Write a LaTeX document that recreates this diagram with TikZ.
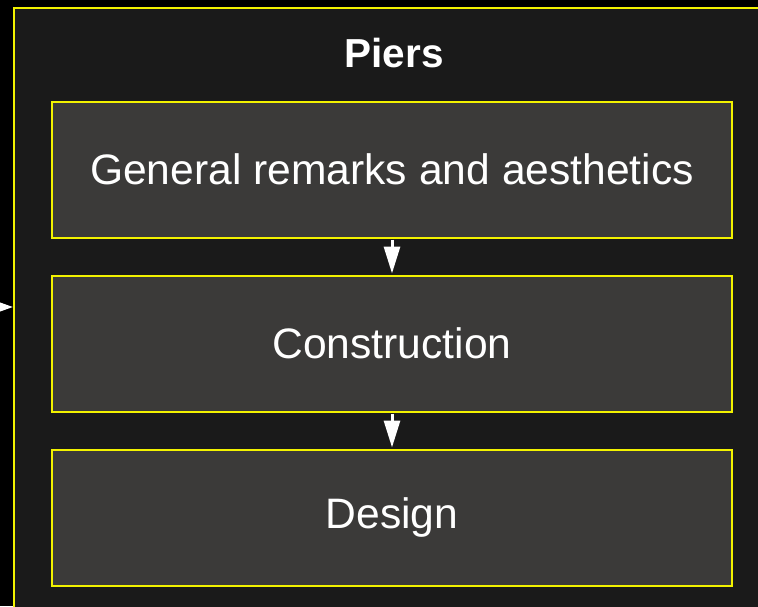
\documentclass[tikz,border=0pt]{standalone}
\usepackage{fontspec}
\setmainfont{Liberation Sans}
\usetikzlibrary{arrows.meta}
\definecolor{bgdark}{HTML}{000000}
\definecolor{outerfill}{HTML}{1A1A1A}
\definecolor{boxfill}{HTML}{3B3A39}
\definecolor{edgeyellow}{HTML}{F2F200}
\tikzset{
  outerbox/.style={draw=edgeyellow, line width=2pt, fill=outerfill, rectangle,
    minimum width=770pt, minimum height=620pt, inner sep=0pt},
  stepbox/.style={draw=edgeyellow, line width=2pt, fill=boxfill, rectangle,
    minimum width=680pt, minimum height=136pt, inner sep=0pt, text=white,
    font=\fontsize{42.6}{50}\selectfont},
  titletext/.style={text=white, font=\fontsize{40.5}{48}\selectfont\bfseries, inner sep=0pt},
  flow/.style={draw=white, line width=3pt, -{Triangle[length=27pt,width=16pt]}, shorten <=1pt, shorten >=1pt},
  entry/.style={draw=white, line width=2.5pt, -{Triangle[length=18pt,width=12pt]}}
}
\begin{document}
\begin{tikzpicture}[x=1pt,y=-1pt]
\useasboundingbox (0,0) rectangle (758,606);
\clip (0,0) rectangle (758,606);
\fill[bgdark] (0,0) rectangle (758,606);
\node[outerbox] (piers) at (399,317.5) {};
\node[titletext, anchor=base] (title) at (394,67) {Piers};
\node[stepbox] (general) at (392,169.5) {General remarks and aesthetics};
\node[stepbox] (construction) at (392,343.5) {Construction};
\node[stepbox] (design) at (392,517.5) {Design};
\coordinate (src) at (-20,307);
\draw[flow] (general) -- (construction);
\draw[flow] (construction) -- (design);
\draw[entry] (src) -- (src -| piers.west);
\end{tikzpicture}
\end{document}
